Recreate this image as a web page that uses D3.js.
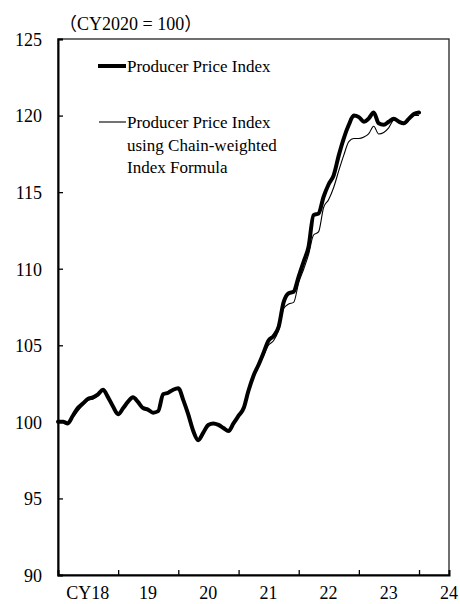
<!DOCTYPE html>
<html>
<head>
<meta charset="utf-8">
<script src="https://cdn.jsdelivr.net/npm/d3@7"></script>
<style>
  html, body { margin: 0; padding: 0; background: #fff; }
  svg { display: block; }
  text { font-family: "Liberation Serif", "Times New Roman", "Noto Sans CJK JP", serif; fill: #000; }
</style>
</head>
<body>
<svg id="chart" width="460" height="604"></svg>
<script>
// ---- data ----
const startMonth = "2018-01";
const endMonth = "2024-01";
const ppi = [
  100.0, 100.0, 99.9, 100.4, 100.9, 101.2, 101.5, 101.6, 101.8, 102.1, 101.6, 101.0,
  100.5, 100.9, 101.3, 101.6, 101.3, 100.9, 100.8, 100.6, 100.7, 101.8, 101.9, 102.1,
  102.2, 101.4, 100.5, 99.4, 98.8, 99.3, 99.8, 99.9, 99.8, 99.6, 99.4, 99.9,
  100.4, 100.9, 102.0, 103.0, 103.7, 104.5, 105.3, 105.6, 106.2, 107.8, 108.4, 108.5,
  109.5, 110.5, 111.4, 113.5, 113.6, 114.7, 115.5, 116.1, 117.4, 118.5, 119.4, 120.0,
  119.9, 119.6, 119.8, 120.2, 119.5, 119.4, 119.6, 119.8, 119.6, 119.5, 119.8, 120.1,
  120.2
];
const ppiChain = [
  100.0, 100.0, 99.9, 100.3, 100.7, 101.1, 101.4, 101.5, 101.7, 102.0, 101.6, 101.0,
  100.5, 100.9, 101.3, 101.6, 101.3, 100.9, 100.8, 100.6, 100.7, 101.8, 101.9, 102.1,
  102.2, 101.4, 100.5, 99.4, 98.8, 99.3, 99.8, 99.9, 99.8, 99.6, 99.4, 99.9,
  100.4, 100.9, 102.0, 103.0, 103.6, 104.3, 105.0, 105.3, 106.0, 107.4, 107.7, 107.8,
  109.1, 110.0, 110.9, 112.2, 112.4, 114.0, 114.5, 115.3, 116.4, 117.4, 118.3, 118.5,
  118.5, 118.6, 118.8, 119.3, 118.8, 118.9, 119.2, 119.7, 119.6, 119.4, 119.7, 120.0,
  120.0
];
const yTicks = [90, 95, 100, 105, 110, 115, 120, 125];
const yearLabels = ["CY18", "19", "20", "21", "22", "23", "24"];
const legendLabels = [["Producer Price Index"], ["Producer Price Index", "using Chain-weighted", "Index Formula"]];
const unitLabel = "（CY2020 = 100）";

// ---- layout ----
const svg = d3.select("#chart");
const pL = 58, pR = 449, pT = 39, pB = 575;
const parse = d3.timeParse("%Y-%m");
const months = d3.timeMonth.range(parse(startMonth), d3.timeMonth.offset(parse(endMonth), 1));

const x = d3.scaleTime()
  .domain([new Date(2018, 0, 1), new Date(2024, 6, 1)])
  .range([pL, pR]);
const y = d3.scaleLinear().domain([90, 125]).range([pB, pT]);

// frame
svg.append("rect")
  .attr("x", pL).attr("y", pT)
  .attr("width", pR - pL).attr("height", pB - pT)
  .attr("fill", "none").attr("stroke", "#222").attr("stroke-width", 1.3);

// y axis
const yAxis = d3.axisRight(y).tickValues(yTicks).tickSize(5).tickFormat(d3.format("d"));
const gy = svg.append("g").attr("transform", `translate(${pL},0)`).call(yAxis);
gy.select(".domain").attr("stroke", "#000").attr("stroke-width", 2);
gy.selectAll(".tick line").attr("stroke", "#000").attr("stroke-width", 1.3);
gy.selectAll(".tick text")
  .attr("x", -16).attr("dy", "0.35em")
  .attr("text-anchor", "end")
  .style("font-size", "18px")
  .style("font-family", "'Liberation Serif', serif");

// x axis (year boundaries)
const yearTicks = d3.timeYear.range(new Date(2019, 0, 1), new Date(2025, 0, 1));
const xAxis = d3.axisTop(x).tickValues(yearTicks).tickSize(5).tickFormat("");
const gx = svg.append("g").attr("transform", `translate(0,${pB})`).call(xAxis);
gx.select(".domain").attr("stroke", "#000").attr("stroke-width", 2);
gx.selectAll(".tick line").attr("stroke", "#000").attr("stroke-width", 1.3);

// year labels at mid-year
svg.append("g").selectAll("text")
  .data(yearLabels)
  .join("text")
  .attr("x", (d, i) => x(new Date(2018 + i, 6, 1)))
  .attr("y", 599)
  .attr("text-anchor", "middle")
  .style("font-size", "18px")
  .text(d => d);

// unit label
svg.append("text")
  .attr("x", 59).attr("y", 30)
  .style("font-size", "18px")
  .text(unitLabel);

// lines
const line = d3.line()
  .x((d, i) => x(months[i]))
  .y(d => y(d))
  .curve(d3.curveMonotoneX);

svg.append("path")
  .datum(ppi)
  .attr("d", line)
  .attr("fill", "none")
  .attr("stroke", "#000")
  .attr("stroke-width", 4)
  .attr("stroke-linejoin", "round")
  .attr("stroke-linecap", "round");

svg.append("path")
  .datum(ppiChain)
  .attr("d", line)
  .attr("fill", "none")
  .attr("stroke", "#000")
  .attr("stroke-width", 1.1)
  .attr("stroke-linejoin", "round");

// legend
const lg = svg.append("g");
lg.append("line").attr("x1", 98).attr("x2", 126).attr("y1", 66).attr("y2", 66)
  .attr("stroke", "#000").attr("stroke-width", 4);
lg.append("line").attr("x1", 99).attr("x2", 126).attr("y1", 122).attr("y2", 122)
  .attr("stroke", "#000").attr("stroke-width", 1.1);
const legendY = [[72], [128, 150.5, 173]];
legendLabels.forEach((lines, k) => {
  lines.forEach((t, j) => {
    lg.append("text")
      .attr("x", 127).attr("y", legendY[k][j])
      .style("font-size", "17px")
      .text(t);
  });
});
</script>
</body>
</html>
